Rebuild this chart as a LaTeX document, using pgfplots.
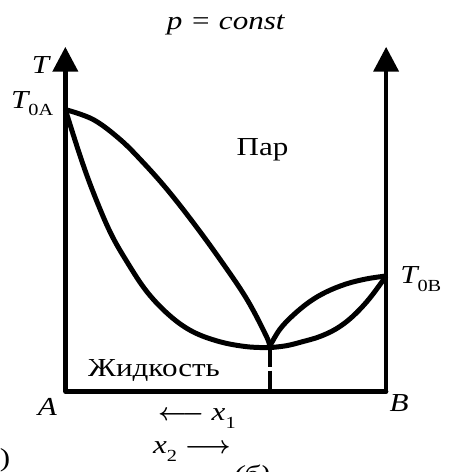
\documentclass[border=0pt]{standalone}
\usepackage{fontspec}
\setmainfont{Liberation Serif}[FakeStretch=1.2]
\usepackage{pgfplots}
\pgfplotsset{compat=1.18}
\usetikzlibrary{arrows.meta}
\tikzset{lab/.style={font=\fontsize{26}{29}\selectfont, inner sep=0pt}}
\newcommand{\sub}[1]{\raisebox{-0.3em}{\fontsize{17}{17}\selectfont #1}}
\begin{document}
\begin{tikzpicture}
\begin{axis}[hide axis, scale only axis, width=450pt, height=472pt,
  xmin=-65, xmax=385, ymin=-79, ymax=393, clip=false]
% frame of the picture (invisible)
\addplot[draw=none] coordinates {(-65,-79) (385,393)};
% axes
\addplot[line width=4.5pt, -{Triangle[width=25pt,length=25pt]}] coordinates {(0,0) (0,346)};
\addplot[line width=4.5pt, -{Triangle[width=25pt,length=25pt]}] coordinates {(322,0) (322,346)};
\addplot[line width=4.5pt, line cap=round] coordinates {(0,0) (322,0)};
% left lens: upper (vapour) curve
\addplot[line width=5pt, smooth, tension=0.6] coordinates {
 (0,283) (28,273) (55,253) (78,230) (102,203) (128,170) (155,133) (182,93) (202,55) (205,45)};
% left lens: lower (liquid) curve
\addplot[line width=5pt, smooth, tension=0.6] coordinates {
 (0,283) (15,236) (28,200) (45,160) (62,130) (82,100) (105,76) (128,60) (155,50) (182,45) (205,44)};
% right lens: upper
\addplot[line width=5pt, smooth, tension=0.6] coordinates {
 (205,45) (215,62) (228,76) (245,90) (262,100) (282,108) (302,113) (322,116)};
% right lens: lower
\addplot[line width=5pt, smooth, tension=0.6] coordinates {
 (205,44) (222,46) (238,50) (255,55) (272,63) (288,75) (305,93) (322,116)};
% azeotrope composition line
\addplot[line width=4pt, dash pattern=on 20pt off 4pt on 40pt] coordinates {(205,45) (205,0)};
% labels
\node[lab] at (axis cs:161,368) {\itshape p = const};
\node[lab] at (axis cs:-25,328) {\itshape T};
\node[lab, anchor=east] at (axis cs:-12,289) {{\itshape T}\sub{0А}};
\node[lab, anchor=west] at (axis cs:336,113) {{\itshape T}\sub{0В}};
\node[lab] at (axis cs:198,243) {Пар};
\node[lab] at (axis cs:89,21) {Жидкость};
\node[lab] at (axis cs:-18,-15) {\itshape A};
\node[lab] at (axis cs:335,-12) {\itshape B};
\node[lab] at (axis cs:132,-27) {{\boldmath$\longleftarrow$} {\itshape x}\sub{1}};
\node[lab] at (axis cs:127,-60) {{\itshape x}\sub{2} {\boldmath$\longrightarrow$}};
\node[lab, anchor=east] at (axis cs:-55,-69) {)};
\node[lab, overlay] at (axis cs:187,-86) {\itshape (б)};
\end{axis}
\end{tikzpicture}
\end{document}
